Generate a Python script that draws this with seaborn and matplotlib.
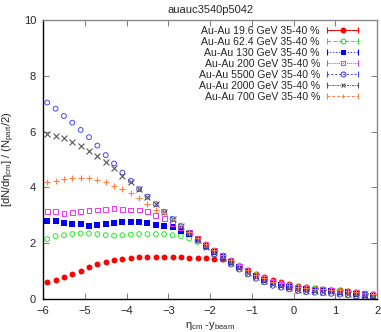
"""
Recreate auauc3540p5042: dN/deta per participant pair vs eta_cm - y_beam.
"""
import numpy as np
import pandas as pd
import matplotlib
matplotlib.use('Agg')
import matplotlib.pyplot as plt
from matplotlib.lines import Line2D
from matplotlib.legend_handler import HandlerLine2D
import seaborn as sns

# x grid (eta_cm - y_beam)
eta = np.round(np.arange(-5.9, 2.0, 0.2), 1)

au196 = [0.62, 0.68, 0.78, 0.90, 1.01, 1.14, 1.25, 1.33, 1.40, 1.45,
         1.49, 1.52, 1.52, 1.51, 1.50, 1.50, 1.50, 1.49, 1.49, 1.49,
         1.43, 1.42, 1.32, 1.20, 1.04, 0.90, 0.80, 0.68, 0.60, 0.53,
         0.47, 0.43, 0.40, 0.37, 0.34, 0.31, 0.28, 0.24, 0.20, 0.17]
au624 = [2.15, 2.26, 2.29, 2.33, 2.35, 2.35, 2.33, 2.29, 2.27, 2.29,
         2.31, 2.33, 2.33, 2.33, 2.33, 2.29, 2.26, 2.17, 2.05, 1.96,
         1.74, 1.56, 1.38, 1.20, 1.03, 0.87, 0.74, 0.62, 0.55, 0.49,
         0.43, 0.39, 0.37, 0.35, 0.33, 0.30, 0.28, 0.24, 0.20, 0.17]
au130 = [2.81, 2.80, 2.71, 2.68, 2.68, 2.63, 2.65, 2.69, 2.74, 2.78,
         2.78, 2.78, 2.71, 2.65, 2.62, 2.59, 2.45, 2.33, 2.14, 1.92,
         1.70, 1.52, 1.34, 1.16, 0.99, 0.83, 0.70, 0.58, 0.51, 0.45,
         0.39, 0.35, 0.33, 0.31, 0.29, 0.26, 0.24, 0.20, 0.16, 0.13]
au200 = [3.15, 3.13, 3.07, 3.10, 3.13, 3.17, 3.19, 3.22, 3.25, 3.21,
         3.19, 3.19, 3.13, 2.99, 2.89, 2.72, 2.55, 2.38, 2.18, 1.96,
         1.73, 1.55, 1.37, 1.19, 1.02, 0.86, 0.73, 0.61, 0.54, 0.48,
         0.42, 0.38, 0.36, 0.34, 0.32, 0.29, 0.27, 0.23, 0.19, 0.16]
au5500 = [7.04, 6.82, 6.56, 6.32, 6.06, 5.80, 5.50, 5.16, 4.86, 4.53,
          4.24, 3.94, 3.67, 3.40, 3.13, 2.87, 2.62, 2.36, 2.10, 1.86,
          1.60, 1.42, 1.24, 1.06, 0.89, 0.73, 0.60, 0.48, 0.41, 0.35,
          0.29, 0.25, 0.23, 0.21, 0.19, 0.16, 0.14, 0.10, 0.07, 0.05]
au2000 = [5.91, 5.84, 5.76, 5.64, 5.50, 5.32, 5.14, 4.90, 4.68, 4.42,
          4.18, 3.94, 3.67, 3.40, 3.13, 2.88, 2.63, 2.38, 2.13, 1.88,
          1.65, 1.47, 1.29, 1.11, 0.94, 0.78, 0.65, 0.53, 0.46, 0.40,
          0.34, 0.30, 0.28, 0.26, 0.24, 0.21, 0.19, 0.15, 0.11, 0.08]
au700 = [4.18, 4.24, 4.29, 4.33, 4.33, 4.33, 4.27, 4.18, 4.06, 3.94,
         3.79, 3.61, 3.40, 3.21, 3.07, 2.88, 2.66, 2.42, 2.20, 1.98,
         1.75, 1.57, 1.39, 1.21, 1.04, 0.88, 0.75, 0.63, 0.56, 0.50,
         0.44, 0.40, 0.38, 0.36, 0.34, 0.31, 0.29, 0.25, 0.21, 0.18]

labels = ['Au-Au 19.6 GeV 35-40 %', 'Au-Au 62.4 GeV 35-40 %',
          'Au-Au 130 GeV 35-40 %', 'Au-Au 200 GeV 35-40 %',
          'Au-Au 5500 GeV 35-40 %', 'Au-Au 2000 GeV 35-40 %',
          'Au-Au 700 GeV 35-40 %']
series = [au196, au624, au130, au200, au5500, au2000, au700]

# style: color, marker, filled, linestyle for legend
styles = [
    ('#ff0000', 'o', True, '-'),
    ('#22ee22', 'o', False, (0, (4, 2))),
    ('#0000ff', 's', True, (0, (1, 2))),
    ('#ee33ee', 's', False, (0, (1, 1))),
    ('#4444ff', 'o', False, (0, (2, 2))),
    ('#555555', 'x', False, (0, (2, 1, 1, 1))),
    ('#ff8040', '+', False, (0, (3, 2))),
]


class CapHandler(HandlerLine2D):
    # legend line with error-bar style end caps
    def create_artists(self, legend, orig_handle, xdescent, ydescent,
                       width, height, fontsize, trans):
        artists = super().create_artists(legend, orig_handle, xdescent, ydescent,
                                         width, height, fontsize, trans)
        y = (height - ydescent) / 2
        caps = Line2D([-xdescent, -xdescent + width], [y, y], linestyle='none',
                      marker='|', markersize=4, markeredgewidth=0.8,
                      color=orig_handle.get_color(), transform=trans)
        return list(artists) + [caps]


sns.set_style('ticks')
plt.rcParams['font.family'] = ['Liberation Sans', 'DejaVu Sans']
plt.rcParams['mathtext.fontset'] = 'custom'
plt.rcParams['mathtext.rm'] = 'Liberation Sans'
plt.rcParams['mathtext.it'] = 'Liberation Sans'

fig = plt.figure(figsize=(3.81, 3.32), dpi=100)
ax = fig.add_axes([0.113, 0.099, 0.877, 0.841])

handles = []
for vals, lab, (col, mk, filled, ls) in zip(series, labels, styles):
    df = pd.DataFrame({'x': eta, 'y': vals})
    if mk in ('x', '+'):
        sns.scatterplot(data=df, x='x', y='y', marker=mk, color=col, s=18,
                        linewidth=0.8, ax=ax, legend=False)
    elif filled:
        sns.scatterplot(data=df, x='x', y='y', marker=mk, color=col, s=18,
                        linewidth=0, ax=ax, legend=False)
    else:
        sns.scatterplot(data=df, x='x', y='y', marker=mk, facecolor='none',
                        edgecolor=col, s=12, linewidth=0.7, ax=ax, legend=False)
    handles.append(Line2D([0], [0], color=col, lw=0.7, linestyle=ls,
                          marker=mk, markersize=3.5,
                          markerfacecolor=col if filled else 'none',
                          markeredgecolor=col, markeredgewidth=0.8))

ax.set_xlim(-6, 2)
ax.set_ylim(0, 10)
ax.set_xticks(np.arange(-6, 3, 1))
ax.set_yticks(np.arange(0, 11, 2))
ax.tick_params(direction='in', top=True, right=True, labelsize=8,
               length=4, width=0.6, color='#666666')
ax.tick_params(axis='x', pad=5)
ax.tick_params(axis='y', pad=5)
for s in ['left', 'bottom']:
    ax.spines[s].set_color('black')
    ax.spines[s].set_linewidth(1.0)
for s in ['top', 'right']:
    ax.spines[s].set_color('#888888')
    ax.spines[s].set_linewidth(1.0)

ax.set_xlabel(r'$\eta_{\rm cm}$ -$y_{\rm beam}$', fontsize=8, labelpad=3)
ax.set_ylabel(r'[dN/d$\eta_{\rm cm}$] / (N$_{\rm part}$/2)', fontsize=8)
ax.yaxis.set_label_coords(-0.078, 0.5)
ax.set_title('auauc3540p5042', fontsize=8, pad=5)

ax.legend(handles, labels, loc='upper right', bbox_to_anchor=(0.955, 0.995),
          frameon=False, markerfirst=False, fontsize=7.6, handlelength=2.9,
          handletextpad=0.7, labelspacing=0.1, borderaxespad=0.0,
          handler_map={Line2D: CapHandler()})

fig.savefig('out.png', dpi=100)
